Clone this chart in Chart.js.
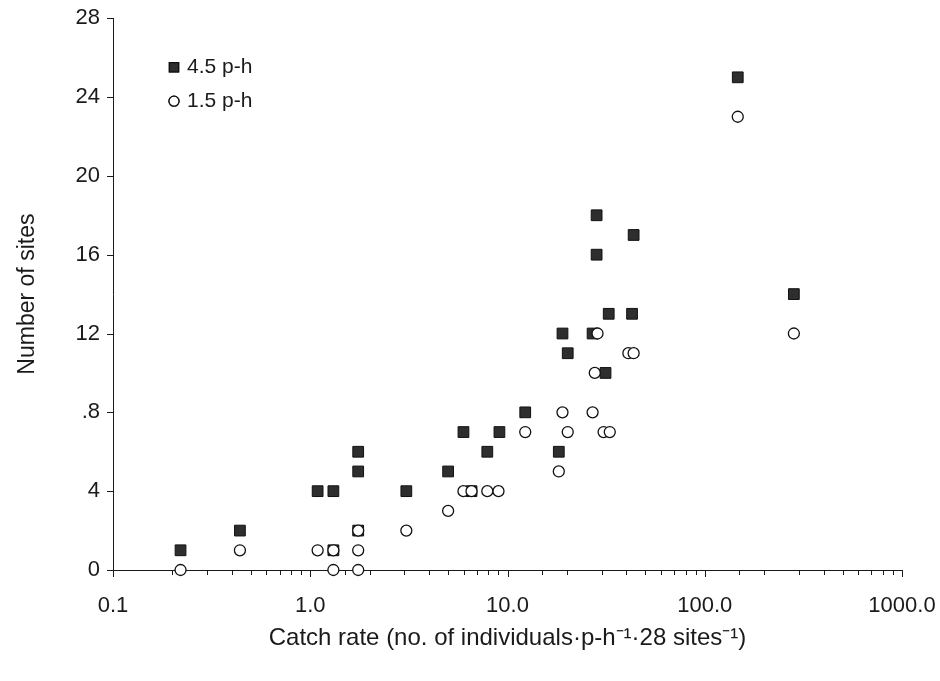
<!DOCTYPE html>
<html>
<head>
<meta charset="utf-8">
<script src="https://cdn.jsdelivr.net/npm/chart.js@4.4.0/dist/chart.umd.min.js"></script>
<style>
  html, body { margin: 0; padding: 0; background: #fff; }
</style>
</head>
<body>
<canvas id="myChart" width="940" height="681"></canvas>
<script>
// catch rate (x) and number of sites (y)
const rate45 = [0.22, 0.44, 1.09, 1.31, 1.31, 1.75, 1.75, 1.75, 3.07, 5.0, 5.98, 6.57, 7.9, 9.1, 12.3, 18.2, 19.0, 20.2, 27.0, 28.3, 28.3, 31.4, 32.6, 42.8, 43.6, 147, 283];
const sites45 = [1, 2, 4, 4, 1, 6, 5, 2, 4, 5, 7, 4, 6, 7, 8, 6, 12, 11, 12, 18, 16, 10, 13, 13, 17, 25, 14];
const rate15 = [0.22, 0.44, 1.09, 1.31, 1.31, 1.75, 1.75, 1.75, 3.07, 5.0, 5.98, 6.57, 7.9, 9.0, 12.3, 18.2, 19.0, 20.2, 27.0, 28.6, 27.7, 30.7, 33.0, 41.0, 43.6, 147, 283];
const sites15 = [0, 1, 1, 1, 0, 2, 1, 0, 2, 3, 4, 4, 4, 4, 7, 5, 8, 7, 8, 12, 10, 7, 7, 11, 11, 23, 12];

const seriesNames = ['4.5 p-h', '1.5 p-h'];
const xTitle = 'Catch rate (no. of individuals\u00B7p-h\u207B\u00B9\u00B728 sites\u207B\u00B9)';
const yTitle = 'Number of sites';

const FONT = 'Liberation Sans, Arial, sans-serif';
const INK = '#1a1a1a';

function isDecade(v) {
    const l = Math.log10(v);
    return Math.abs(l - Math.round(l)) < 1e-6;
}

// outward tick marks, long at decades, short for the rest
const tickMarks = {
    id: 'tickMarks',
    afterDraw(chart) {
        const { ctx, scales: { x, y } } = chart;
        ctx.save();
        ctx.strokeStyle = INK;
        ctx.lineWidth = 1;
        ctx.beginPath();
        x.ticks.forEach(t => {
            const px = Math.round(x.getPixelForValue(t.value)) + 0.5;
            const len = isDecade(t.value) ? 7 : 5;
            ctx.moveTo(px, y.bottom);
            ctx.lineTo(px, y.bottom + len);
        });
        y.ticks.forEach(t => {
            const py = Math.round(y.getPixelForValue(t.value)) + 0.5;
            ctx.moveTo(x.left, py);
            ctx.lineTo(x.left - 6, py);
        });
        ctx.stroke();
        ctx.restore();
    }
};

// legend inside the plot, top left, stacked
const innerLegend = {
    id: 'innerLegend',
    afterDraw(chart) {
        const { ctx, chartArea } = chart;
        const x0 = chartArea.left + 61;
        const y0 = chartArea.top + 49;
        ctx.save();
        ctx.font = '21px ' + FONT;
        ctx.textBaseline = 'middle';
        chart.data.datasets.forEach((ds, i) => {
            const yy = y0 + i * 34;
            Chart.helpers.drawPoint(ctx, {
                pointStyle: ds.pointStyle,
                radius: i === 0 ? 6.5 : 5,
                borderWidth: ds.borderWidth
            }, x0, yy);
            ctx.fillStyle = ds.backgroundColor;
            ctx.strokeStyle = ds.borderColor;
            ctx.fill();
            ctx.stroke();
            ctx.fillStyle = INK;
            ctx.fillText(ds.label, x0 + 13, yy);
        });
        ctx.restore();
    }
};

const ctx = document.getElementById('myChart');

const config = {
    type: 'scatter',
    data: {
        datasets: [{
            label: seriesNames[0],
            data: rate45.map((v, i) => ({ x: v, y: sites45[i] })),
            pointStyle: 'rect',
            pointRadius: 7.6,
            backgroundColor: '#2e2e2e',
            borderColor: '#111',
            borderWidth: 1,
            order: 1,
            clip: false
        }, {
            label: seriesNames[1],
            data: rate15.map((v, i) => ({ x: v, y: sites15[i] })),
            pointStyle: 'circle',
            pointRadius: 5.5,
            backgroundColor: '#fff',
            borderColor: '#111',
            borderWidth: 1.3,
            order: 0,
            clip: false
        }]
    },
    options: {
        responsive: false,
        animation: false,
        devicePixelRatio: 1,
        layout: { padding: { top: 10, right: 38, left: 0, bottom: 0 } },
        plugins: {
            legend: { display: false },
            tooltip: { enabled: false }
        },
        scales: {
            x: {
                type: 'logarithmic',
                min: 0.1,
                max: 1000,
                grid: { display: false },
                border: { display: true, color: INK, width: 1 },
                ticks: {
                    autoSkip: false,
                    maxRotation: 0,
                    padding: 15,
                    color: INK,
                    font: { family: FONT, size: 22 },
                    callback: v => isDecade(v) ? Number(v).toFixed(1) : ''
                },
                title: {
                    display: true,
                    text: xTitle,
                    color: INK,
                    font: { family: FONT, size: 24 },
                    padding: { top: 0, bottom: 28 }
                },
                afterFit(scale) {
                    scale.height = 111;
                    scale.paddingLeft = 0;
                    scale.paddingRight = 0;
                }
            },
            y: {
                min: 0,
                max: 28,
                grid: { display: false },
                border: { display: true, color: INK, width: 1 },
                ticks: {
                    stepSize: 4,
                    padding: 5,
                    color: INK,
                    font: { family: FONT, size: 22 },
                    callback: v => v === 8 ? '.8' : String(v)
                },
                title: {
                    display: true,
                    text: yTitle,
                    color: INK,
                    font: { family: FONT, size: 23 },
                    padding: { top: 14, bottom: 0 }
                },
                afterFit(scale) { scale.width = 113; }
            }
        }
    },
    plugins: [tickMarks, innerLegend]
};

const scatterChart = new Chart(ctx, config);
</script>
</body>
</html>
